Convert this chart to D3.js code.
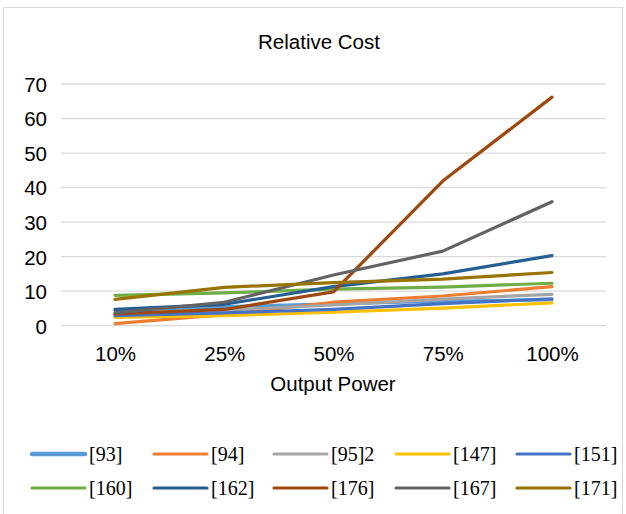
<!DOCTYPE html>
<html><head><meta charset="utf-8">
<script src="https://cdn.jsdelivr.net/npm/d3@7"></script>
<style>body{margin:0;background:#fff}svg{display:block}</style>
</head><body>
<svg id="c" width="626" height="514"></svg>
<script>
const categories = ["10%", "25%", "50%", "75%", "100%"];
const seriesNames = ["[93]", "[94]", "[95]2", "[147]", "[151]", "[160]", "[162]", "[176]", "[167]", "[171]"];
const s93  = [4.4, 5.5, 6.3, 7.1, 7.5];
const s94  = [0.6, 3.2, 6.8, 8.6, 11.3];
const s95  = [3.2, 4.5, 6.0, 7.7, 9.1];
const s147 = [2.4, 2.9, 3.9, 5.1, 6.6];
const s151 = [2.9, 3.7, 4.7, 6.4, 7.8];
const s160 = [8.8, 9.5, 10.6, 11.2, 12.3];
const s162 = [4.7, 6.2, 11.3, 15.0, 20.3];
const s176 = [3.4, 4.7, 9.8, 41.9, 66.2];
const s167 = [3.7, 6.8, 14.7, 21.6, 35.9];
const s171 = [7.6, 11.1, 12.5, 13.5, 15.4];
const seriesValues = [s93, s94, s95, s147, s151, s160, s162, s176, s167, s171];
const colors = ["#5B9BD5", "#ED7D31", "#A5A5A5", "#FFC000", "#4472C4", "#70AD47", "#255E91", "#9E480E", "#636363", "#997300"];
const yTicks = [0, 10, 20, 30, 40, 50, 60, 70];
const titleText = "Relative Cost";
const xTitle = "Output Power";

const svg = d3.select("#c");
svg.append("rect").attr("x", 3.5).attr("y", 7.5).attr("width", 619).attr("height", 520)
  .attr("fill", "#fff").attr("stroke", "#d9d9d9").attr("stroke-width", 1);

const x = d3.scalePoint().domain(categories).range([115, 552]).padding(0);
const y = d3.scaleLinear().domain([0, 70]).range([325.7, 84]);
const xLeft = 61, xRight = 606;
const sans = "Liberation Sans, Arial, sans-serif";

// gridlines
svg.append("g").selectAll("line").data(yTicks).join("line")
  .attr("x1", xLeft).attr("x2", xRight)
  .attr("y1", d => y(d)).attr("y2", d => y(d))
  .attr("stroke", "#d9d9d9").attr("stroke-width", 1.3);

// y axis labels
const yAxis = d3.axisLeft(y).tickValues(yTicks).tickSize(0).tickPadding(0);
const gy = svg.append("g").attr("transform", "translate(47,0)").call(yAxis);
gy.select(".domain").remove();
gy.selectAll("text").attr("font-family", sans)
  .attr("font-size", 20.5).attr("fill", "#000").attr("dy", "0.36em");

// x axis labels
const xAxis = d3.axisBottom(x).tickSize(0).tickPadding(0);
const gx = svg.append("g").attr("transform", "translate(0,346)").call(xAxis);
gx.select(".domain").remove();
gx.selectAll("text").attr("font-family", sans)
  .attr("font-size", 20.5).attr("fill", "#000").attr("dy", "0.72em");

// lines
const line = d3.line().x((d, i) => x(categories[i])).y(d => y(d));
svg.append("g").selectAll("path").data(seriesValues).join("path")
  .attr("d", d => line(d))
  .attr("fill", "none")
  .attr("stroke", (d, i) => colors[i])
  .attr("stroke-width", 3.2)
  .attr("stroke-linecap", "round")
  .attr("stroke-linejoin", "round");

// titles
svg.append("text").attr("x", 319).attr("y", 49).attr("text-anchor", "middle")
  .attr("font-family", sans).attr("font-size", 20.5)
  .attr("fill", "#000").text(titleText);
svg.append("text").attr("x", 333).attr("y", 391).attr("text-anchor", "middle")
  .attr("font-family", sans).attr("font-size", 20.5)
  .attr("fill", "#000").text(xTitle);

// legend
const legX = [32, 154, 274, 396, 517];
const legY = [454, 488];
const leg = svg.append("g").selectAll("g").data(seriesNames).join("g")
  .attr("transform", (d, i) => `translate(${legX[i % 5]},${legY[Math.floor(i / 5)]})`);
leg.append("line").attr("x1", 0).attr("x2", 53).attr("y1", 0).attr("y2", 0)
  .attr("stroke", (d, i) => colors[i]).attr("stroke-width", (d, i) => i === 0 ? 4.5 : 3.2)
  .attr("stroke-linecap", "round");
leg.append("text").attr("x", 57).attr("y", 0).attr("dy", "0.35em")
  .attr("font-family", "Liberation Serif, Times New Roman, serif").attr("font-size", 20)
  .attr("fill", "#000").text(d => d);
</script>
</body></html>
